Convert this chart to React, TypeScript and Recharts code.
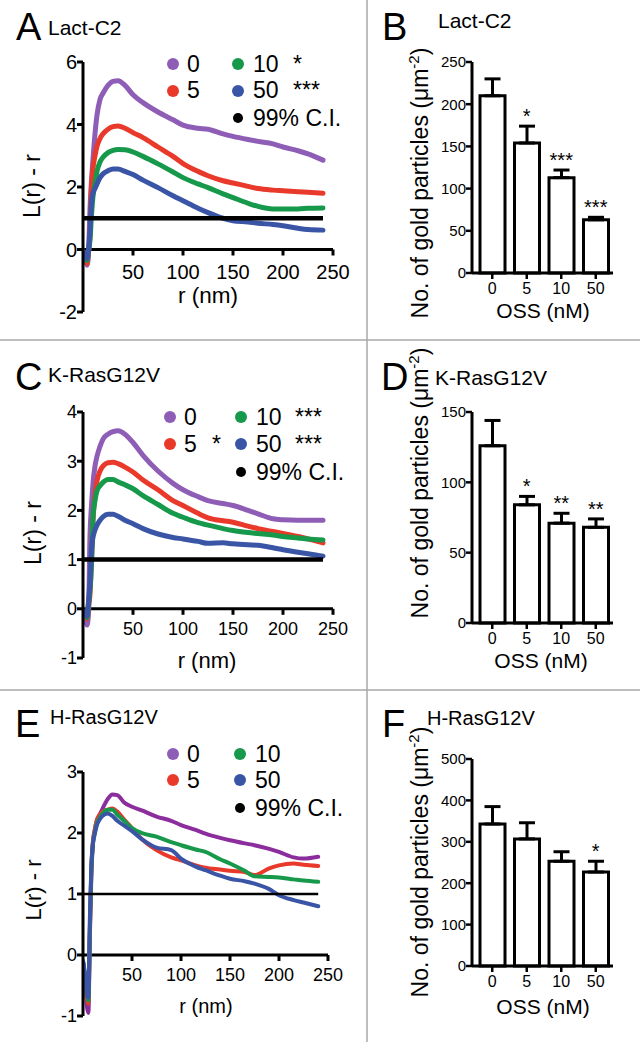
import React from 'react';
import { LineChart, Line, XAxis, YAxis, ReferenceLine, ComposedChart, Bar, ErrorBar, Scatter } from 'recharts';

const FONT = '"Liberation Sans", Arial, Helvetica, sans-serif';
const PURPLE = '#8e5db6';
const PURPLE_E = '#8b2d9d';
const RED = '#e8392b';
const GREEN = '#16994b';
const BLUE = '#3a55a6';

// r (nm) positions where the curves were read
const R_NM = [0, 2, 4, 5.5, 7, 8.5, 10, 12, 14, 17, 20, 25, 30, 35, 42, 50, 60, 75, 90, 100, 115, 125, 140, 150, 165, 175, 190, 200, 215, 225, 240];
const R_TICKS = [50, 100, 150, 200, 250];
const CI_R = [0, 240];
const CI_VAL = [1, 1];

// A: Lact-C2, L(r) - r
const LACT_0 = [-0.1, -0.3, -0.5, -0.1, 1.3, 2.2, 2.9, 3.7, 4.3, 4.8, 5.0, 5.25, 5.38, 5.4, 5.25, 4.95, 4.7, 4.4, 4.15, 3.98, 3.88, 3.85, 3.7, 3.62, 3.52, 3.46, 3.38, 3.28, 3.16, 3.06, 2.86];
const LACT_5 = [-0.05, -0.25, -0.45, -0.1, 0.5, 2.0, 2.6, 3.0, 3.3, 3.55, 3.7, 3.85, 3.93, 3.95, 3.88, 3.74, 3.58, 3.28, 2.98, 2.75, 2.5, 2.36, 2.2, 2.13, 2.02, 1.95, 1.9, 1.88, 1.85, 1.83, 1.8];
const LACT_10 = [-0.05, -0.2, -0.35, -0.05, 0.3, 1.1, 1.7, 2.1, 2.5, 2.8, 2.95, 3.1, 3.17, 3.2, 3.19, 3.12, 2.98, 2.74, 2.48, 2.3, 2.1, 1.98, 1.78, 1.66, 1.48, 1.38, 1.3, 1.3, 1.3, 1.32, 1.33];
const LACT_50 = [-0.05, -0.15, -0.3, 0.0, 0.6, 1.5, 1.8, 1.95, 2.1, 2.3, 2.42, 2.52, 2.58, 2.58, 2.5, 2.4, 2.22, 1.98, 1.72, 1.56, 1.32, 1.18, 1.0, 0.92, 0.88, 0.84, 0.8, 0.76, 0.68, 0.64, 0.62];

// C: K-RasG12V
const KRAS_0 = [-0.05, -0.2, -0.33, -0.1, 1.5, 2.1, 2.55, 2.9, 3.1, 3.3, 3.45, 3.55, 3.6, 3.62, 3.55, 3.38, 3.12, 2.8, 2.55, 2.42, 2.28, 2.2, 2.14, 2.1, 2.0, 1.93, 1.83, 1.81, 1.8, 1.8, 1.8];
const KRAS_5 = [-0.05, -0.15, -0.2, 0.05, 0.3, 1.0, 1.8, 2.3, 2.6, 2.8, 2.9, 2.97, 2.98, 2.95, 2.88, 2.78, 2.62, 2.42, 2.2, 2.1, 1.94, 1.85, 1.79, 1.76, 1.68, 1.63, 1.57, 1.53, 1.47, 1.42, 1.34];
const KRAS_10 = [-0.05, -0.12, -0.18, 0.1, 0.4, 0.9, 1.85, 2.2, 2.4, 2.5, 2.57, 2.63, 2.63, 2.58, 2.52, 2.44, 2.3, 2.12, 1.94, 1.86, 1.75, 1.7, 1.63, 1.59, 1.55, 1.53, 1.5, 1.47, 1.44, 1.42, 1.4];
const KRAS_50 = [-0.05, -0.1, -0.15, 0.15, 0.55, 1.2, 1.45, 1.6, 1.7, 1.8, 1.87, 1.92, 1.92, 1.88, 1.8, 1.73, 1.63, 1.52, 1.45, 1.42, 1.37, 1.33, 1.34, 1.32, 1.3, 1.29, 1.24, 1.2, 1.15, 1.12, 1.07];

// E: H-RasG12V
const HRAS_0 = [-0.1, -0.4, -0.85, -0.95, 0.3, 1.3, 1.8, 2.05, 2.2, 2.3, 2.4, 2.55, 2.63, 2.62, 2.5, 2.43, 2.37, 2.27, 2.2, 2.13, 2.05, 1.99, 1.92, 1.88, 1.83, 1.8, 1.74, 1.69, 1.6, 1.58, 1.61];
const HRAS_5 = [-0.1, -0.35, -0.7, -0.8, 0.4, 1.4, 1.85, 2.05, 2.2, 2.3, 2.35, 2.38, 2.4, 2.35, 2.22, 2.08, 1.9, 1.72, 1.6, 1.55, 1.47, 1.43, 1.4, 1.38, 1.36, 1.31, 1.42, 1.47, 1.5, 1.48, 1.46];
const HRAS_10 = [-0.1, -0.35, -0.65, -0.75, 0.4, 1.4, 1.8, 2.0, 2.15, 2.25, 2.32, 2.38, 2.38, 2.3, 2.2, 2.08, 2.0, 1.94, 1.85, 1.8, 1.73, 1.69, 1.57, 1.5, 1.38, 1.29, 1.28, 1.27, 1.24, 1.22, 1.2];
const HRAS_50 = [-0.1, -0.3, -0.65, -0.7, 0.6, 1.45, 1.8, 1.98, 2.12, 2.22, 2.28, 2.32, 2.28, 2.2, 2.12, 2.03, 1.9, 1.76, 1.72, 1.58, 1.45, 1.39, 1.3, 1.25, 1.21, 1.17, 1.08, 0.98, 0.9, 0.86, 0.8];

// bar panels: OSS (nM) vs gold particles
const OSS = ['0', '5', '10', '50'];
const LACT_MEAN = [210, 154, 113, 63];
const LACT_SEM = [20, 20, 9, 3];
const LACT_STARS = ['', '*', '***', '***'];
const KRAS_MEAN = [126, 84, 71, 68];
const KRAS_SEM = [18, 6, 7, 6];
const KRAS_STARS = ['', '*', '**', '**'];
const HRAS_MEAN = [343, 307, 253, 227];
const HRAS_SEM = [42, 39, 23, 26];
const HRAS_STARS = ['', '', '', '*'];

const toPoints = (xs: number[], ys: number[]) => xs.map((r, i) => ({ r, v: ys[i] }));

function XTick(props: any) {
  const { x, y, payload, shift, fontSize, gap } = props;
  const y0 = y - shift;
  return (
    <g>
      <line x1={x} x2={x} y1={y0} y2={y0 + 6} stroke="#000" strokeWidth={3} />
      <text x={x} y={y0 + gap} textAnchor="middle" fontSize={fontSize} fill="#000">{payload.value}</text>
    </g>
  );
}

interface LineSeries { values: number[]; color: string }

function LinePanel({ series, yMin, yMax, yTicks, plotTop, plotBottom, plotRight, tickFont, gap, lineWidth, ciWidth }: {
  series: LineSeries[]; yMin: number; yMax: number; yTicks: number[]; plotTop: number; plotBottom: number;
  plotRight: number; tickFont: number; gap: number; lineWidth: number; ciWidth: number;
}) {
  const W = 360;
  const H = plotBottom - plotTop + 20;
  const shift = ((0 - yMin) / (yMax - yMin)) * (plotBottom - plotTop);
  return (
    <div style={{ position: 'absolute', left: 0, top: plotTop - 10, width: W, height: H }}>
      <LineChart width={W} height={H} margin={{ top: 10, right: W - plotRight, bottom: 9, left: 0 }}>
        <XAxis
          type="number"
          dataKey="r"
          domain={[0, 250]}
          ticks={R_TICKS}
          interval={0}
          height={1}
          axisLine={false}
          tickLine={false}
          tickSize={0}
          tickMargin={0}
          allowDataOverflow
          tick={(p: any) => <XTick {...p} shift={shift} fontSize={tickFont} gap={gap} />}
        />
        <YAxis
          type="number"
          domain={[yMin, yMax]}
          ticks={yTicks}
          interval={0}
          width={83}
          allowDataOverflow
          axisLine={{ stroke: '#000', strokeWidth: 3 }}
          tickLine={{ stroke: '#000', strokeWidth: 3 }}
          tickSize={6}
          tickMargin={0}
          tick={{ fill: '#000', fontSize: tickFont }}
        />
        <ReferenceLine y={0} stroke="#000" strokeWidth={3} />
        {series.map((s, i) => (
          <Line
            key={i}
            data={toPoints(R_NM, s.values)}
            dataKey="v"
            type="monotone"
            stroke={s.color}
            strokeWidth={lineWidth}
            strokeLinecap="round"
            strokeLinejoin="round"
            dot={false}
            isAnimationActive={false}
          />
        ))}
        <Line
          data={toPoints(CI_R, CI_VAL)}
          dataKey="v"
          stroke="#000"
          strokeWidth={ciWidth}
          dot={false}
          isAnimationActive={false}
        />
      </LineChart>
    </div>
  );
}

function StarShape(props: any) {
  const { cx, cy, payload } = props;
  return (
    <text x={cx} y={cy - 3} textAnchor="middle" fontSize={20} fill="#000">{payload.s}</text>
  );
}

function BarPanel({ means, sems, stars, yMax, yTicks, plotTop, plotBottom }: {
  means: number[]; sems: number[]; stars: string[]; yMax: number; yTicks: number[]; plotTop: number; plotBottom: number;
}) {
  const W = 230;
  const H = plotBottom - plotTop + 40;
  const data = OSS.map((c, i) => ({ c, m: means[i], err: [0, sems[i]], top: means[i] + sems[i], s: stars[i] }));
  return (
    <div style={{ position: 'absolute', left: 400, top: plotTop - 10, width: W, height: H }}>
      <ComposedChart width={W} height={H} data={data} margin={{ top: 10, right: 17, bottom: 0, left: 0 }}>
        <XAxis
          dataKey="c"
          height={30}
          padding={{ left: 3, right: 0 }}
          interval={0}
          axisLine={{ stroke: '#000', strokeWidth: 3 }}
          tickLine={{ stroke: '#000', strokeWidth: 2.5 }}
          tickSize={6}
          tickMargin={4}
          tick={{ fill: '#000', fontSize: 16 }}
        />
        <YAxis
          type="number"
          domain={[0, yMax]}
          ticks={yTicks}
          interval={0}
          width={72}
          axisLine={{ stroke: '#000', strokeWidth: 3 }}
          tickLine={{ stroke: '#000', strokeWidth: 2.5 }}
          tickSize={6}
          tickMargin={0}
          tick={{ fill: '#000', fontSize: 15 }}
        />
        <Bar dataKey="m" barSize={25} fill="#fff" stroke="#000" strokeWidth={3} isAnimationActive={false}>
          <ErrorBar dataKey="err" width={8} stroke="#000" strokeWidth={3} direction="y" />
        </Bar>
        <Scatter dataKey="top" shape={StarShape} isAnimationActive={false} />
      </ComposedChart>
    </div>
  );
}

function Legend({ c1, c2, rows, base, stars, purple }: {
  c1: number; c2: number; rows: number[]; base: number[]; stars: { x: number; row: number; t: string }[]; purple: string;
}) {
  const fs = 23;
  return (
    <g fontSize={fs} fill="#000">
      <circle cx={c1} cy={rows[0]} r={6} fill={purple} />
      <text x={c1 + 14} y={base[0]}>0</text>
      <circle cx={c2} cy={rows[0]} r={6} fill={GREEN} />
      <text x={c2 + 15} y={base[0]}>10</text>
      <circle cx={c1} cy={rows[1]} r={6} fill={RED} />
      <text x={c1 + 14} y={base[1]}>5</text>
      <circle cx={c2} cy={rows[1]} r={6} fill={BLUE} />
      <text x={c2 + 15} y={base[1]}>50</text>
      <circle cx={c2} cy={rows[2]} r={5} fill="#000" />
      <text x={c2 + 15} y={base[2]}>99% C.I.</text>
      {stars.map((s, i) => (
        <text key={i} x={s.x} y={base[s.row]}>{s.t}</text>
      ))}
    </g>
  );
}

function GoldLabel({ x, y }: { x: number; y: number }) {
  return (
    <text transform={`translate(${x},${y}) rotate(-90)`} textAnchor="middle" fontSize={23} fill="#000">
      No. of gold particles (μm<tspan dy={-9} fontSize={15}>-2</tspan><tspan dy={9}>)</tspan>
    </text>
  );
}

export default function App() {
  return (
    <div style={{ position: 'absolute', left: 0, top: 0, width: 640, height: 1042, background: '#fff', fontFamily: FONT, overflow: 'hidden' }}>
      <LinePanel
        series={[{ values: LACT_0, color: PURPLE }, { values: LACT_5, color: RED }, { values: LACT_10, color: GREEN }, { values: LACT_50, color: BLUE }]}
        yMin={-2} yMax={6} yTicks={[-2, 0, 2, 4, 6]} plotTop={62} plotBottom={312} plotRight={333}
        tickFont={20} gap={29} lineWidth={5} ciWidth={4.5}
      />
      <LinePanel
        series={[{ values: KRAS_0, color: PURPLE }, { values: KRAS_5, color: RED }, { values: KRAS_10, color: GREEN }, { values: KRAS_50, color: BLUE }]}
        yMin={-1} yMax={4} yTicks={[-1, 0, 1, 2, 3, 4]} plotTop={412} plotBottom={658} plotRight={333}
        tickFont={18} gap={26} lineWidth={5} ciWidth={4.5}
      />
      <LinePanel
        series={[{ values: HRAS_0, color: PURPLE_E }, { values: HRAS_5, color: RED }, { values: HRAS_10, color: GREEN }, { values: HRAS_50, color: BLUE }]}
        yMin={-1} yMax={3} yTicks={[-1, 0, 1, 2, 3]} plotTop={772} plotBottom={1016} plotRight={328}
        tickFont={18} gap={26} lineWidth={4} ciWidth={2.5}
      />
      <BarPanel means={LACT_MEAN} sems={LACT_SEM} stars={LACT_STARS} yMax={250} yTicks={[0, 50, 100, 150, 200, 250]} plotTop={62} plotBottom={273} />
      <BarPanel means={KRAS_MEAN} sems={KRAS_SEM} stars={KRAS_STARS} yMax={150} yTicks={[0, 50, 100, 150]} plotTop={412} plotBottom={623} />
      <BarPanel means={HRAS_MEAN} sems={HRAS_SEM} stars={HRAS_STARS} yMax={500} yTicks={[0, 100, 200, 300, 400, 500]} plotTop={759} plotBottom={966} />

      <svg width={640} height={1042} style={{ position: 'absolute', left: 0, top: 0, pointerEvents: 'none' }}>
        <line x1={367} x2={367} y1={0} y2={1042} stroke="#a8a8a8" strokeWidth={1.5} />
        <line x1={0} x2={640} y1={340} y2={340} stroke="#a8a8a8" strokeWidth={1.5} />
        <line x1={0} x2={640} y1={690} y2={690} stroke="#a8a8a8" strokeWidth={1.5} />

        <g fontSize={38} fill="#000">
          <text x={16} y={40}>A</text>
          <text x={382} y={40}>B</text>
          <text x={15} y={390}>C</text>
          <text x={381} y={390}>D</text>
          <text x={15} y={737}>E</text>
          <text x={382} y={737}>F</text>
        </g>
        <g fontSize={21} fill="#000">
          <text x={48} y={35}>Lact-C2</text>
          <text x={438} y={28}>Lact-C2</text>
          <text x={48} y={382}>K-RasG12V</text>
          <text x={435} y={385}>K-RasG12V</text>
          <text x={50} y={724} fontSize={20}>H-RasG12V</text>
          <text x={427} y={725} fontSize={20}>H-RasG12V</text>
        </g>

        <g fill="#000" textAnchor="middle">
          <text transform="translate(40,186) rotate(-90)" fontSize={23}>L(r) - r</text>
          <text transform="translate(41,533) rotate(-90)" fontSize={23}>L(r) - r</text>
          <text transform="translate(41,890) rotate(-90)" fontSize={22}>L(r) - r</text>
          <text x={208} y={303} fontSize={22.5}>r (nm)</text>
          <text x={207} y={668} fontSize={22}>r (nm)</text>
          <text x={206} y={1013} fontSize={20}>r (nm)</text>
          <text x={543} y={318} fontSize={21}>OSS (nM)</text>
          <text x={541} y={668} fontSize={21}>OSS (nM)</text>
          <text x={543} y={1014} fontSize={21}>OSS (nM)</text>
        </g>
        <GoldLabel x={428} y={183} />
        <GoldLabel x={428} y={483} />
        <GoldLabel x={428} y={862} />

        <Legend c1={173} c2={238} rows={[64, 91, 118]} base={[72, 98, 126]} purple={PURPLE}
          stars={[{ x: 293, row: 0, t: '*' }, { x: 293, row: 1, t: '***' }]} />
        <Legend c1={170} c2={241} rows={[417, 444, 472]} base={[425, 452, 480]} purple={PURPLE}
          stars={[{ x: 295, row: 0, t: '***' }, { x: 212, row: 1, t: '*' }, { x: 295, row: 1, t: '***' }]} />
        <Legend c1={173} c2={240} rows={[754, 780, 808]} base={[762, 788, 816]} purple={PURPLE}
          stars={[]} />
      </svg>
    </div>
  );
}
